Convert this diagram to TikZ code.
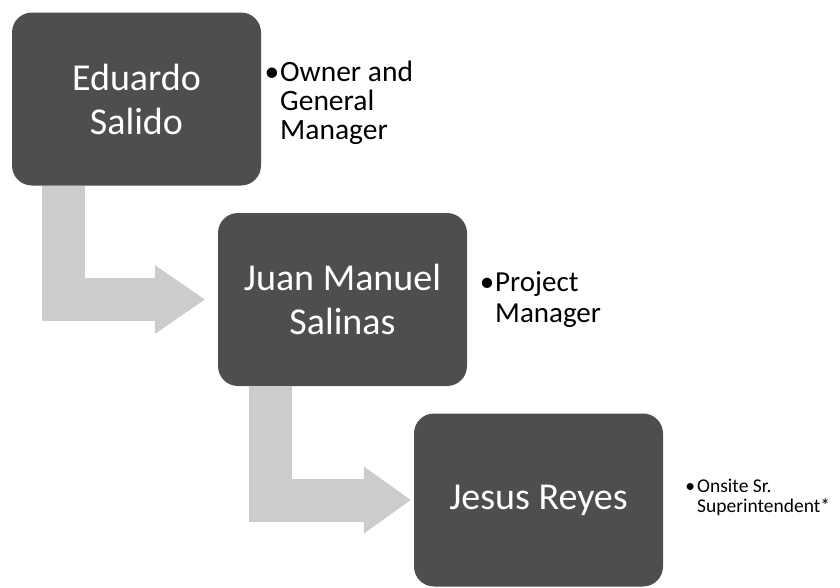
\documentclass[tikz,border=0pt]{standalone}
\usepackage{fontspec}
\setmainfont{Carlito}
\usetikzlibrary{arrows.meta}

\definecolor{boxgray}{RGB}{78,78,78}
\definecolor{arrowgray}{RGB}{204,204,204}

\begin{document}
\begin{tikzpicture}[x=1pt, y=-1pt,
  person/.style={fill=boxgray, rounded corners=20pt, minimum width=249pt, minimum height=173pt,
    text=white, align=center, font=\fontsize{38}{44}\selectfont},
  role/.style={anchor=north west, inner sep=0pt, align=left},
  bendarrow/.style={draw=arrowgray, line width=43pt, line join=miter}]
% Canvas
\useasboundingbox (0,0) rectangle (840,587);

% The three people
\node[person] (ed) at (136.5, 99) {Eduardo\\Salido};
\node[person] (jm) at (342.5, 299.5) {Juan Manuel\\Salinas};
\node[person] (jr) at (538.5, 500) {Jesus Reyes};

% Their roles
\node[role, font=\fontsize{29.5}{29}\selectfont] (edrole) at (280, 61) {\llap{\textbullet\hspace{1pt}}Owner and\\General\\Manager};
\node[role, font=\fontsize{29}{31}\selectfont] (jmrole) at (495, 271) {\llap{\textbullet\hspace{1pt}}Project\\Manager};
\node[role, font=\fontsize{19.5}{20}\selectfont] (jrrole) at (697, 479) {\llap{\textbullet\hspace{2pt}}Onsite Sr.\\Superintendent*};

% Bent arrows between the boxes
\draw[bendarrow, -{Triangle[length=50pt, width=69pt, line width=0pt]}, shorten >=13pt]
  ([xshift=51.5pt]ed.south west) |- (jm.west);
\draw[bendarrow, -{Triangle[length=47pt, width=67pt, line width=0pt]}, shorten >=3pt]
  ([xshift=53pt]jm.south west) |- (jr.west);
\end{tikzpicture}
\end{document}
